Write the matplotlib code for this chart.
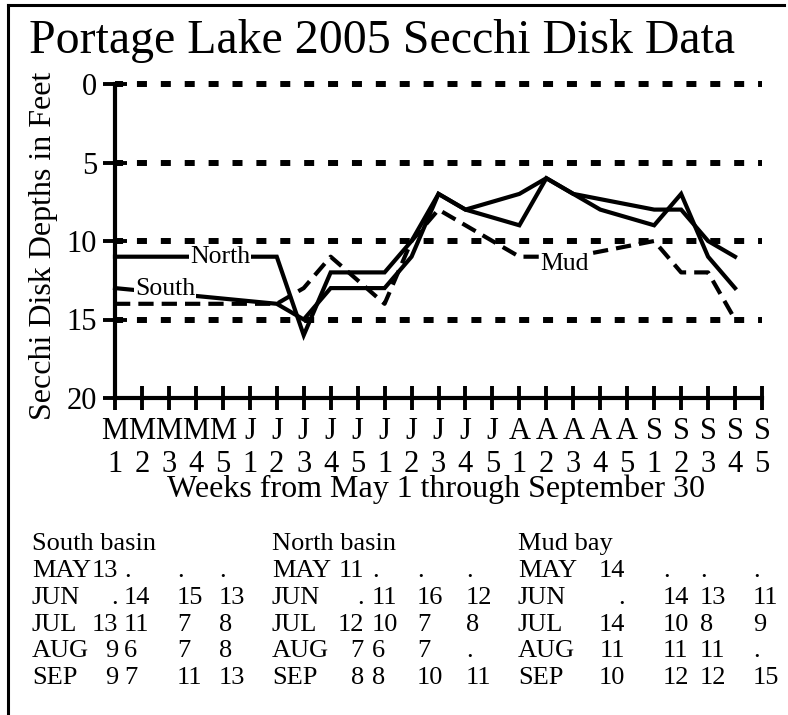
import numpy as np
import matplotlib
matplotlib.use('Agg')
import matplotlib.pyplot as plt
from matplotlib.lines import Line2D

plt.rcParams['font.family'] = 'Liberation Serif'
plt.rcParams['lines.scale_dashes'] = False  # dash lengths in points

nan = np.nan

# weekly Secchi readings (feet), May week 1 .. Sep week 5, nan = no reading
month_letters = ['M'] * 5 + ['J'] * 5 + ['J'] * 5 + ['A'] * 5 + ['S'] * 5
week_numbers = [1, 2, 3, 4, 5] * 5
south = [13, nan, nan, nan, nan, nan, 14, 15, 13, nan, 13, 11, 7, 8, nan,
         9, 6, 7, 8, nan, 9, 7, 11, 13, nan]
north = [11, nan, nan, nan, nan, nan, 11, 16, 12, nan, 12, 10, 7, 8, nan,
         7, 6, 7, nan, nan, 8, 8, 10, 11, nan]
mud = [14, nan, nan, nan, nan, nan, 14, 13, 11, nan, 14, 10, 8, 9, nan,
       11, 11, 11, nan, nan, 10, 12, 12, 15, nan]

months = ['MAY', 'JUN', 'JUL', 'AUG', 'SEP']
basins = ['South basin', 'North basin', 'Mud bay']
grid_depths = [0, 5, 10, 15]

W, H = 788, 715
fig = plt.figure(figsize=(W / 100, H / 100), dpi=100)


def fx(px):
    return px / W


def fy(py):
    return 1 - py / H


# frame
fig.add_artist(Line2D([fx(8), fx(8)], [0, fy(5)], color='black', lw=2.2))
fig.add_artist(Line2D([fx(8), fx(784)], [fy(5), fy(5)], color='black', lw=2.2))

fig.text(fx(29), fy(53), 'Portage Lake 2005 Secchi Disk Data',
         fontsize=34.5, va='baseline', ha='left')

ax = fig.add_axes([fx(115), fy(398), (762 - 115) / W, (398 - 84) / H])
weeks = np.arange(len(south))
ax.set_xlim(0, 24)
ax.set_ylim(20, 0)

for d in grid_depths:
    ax.axhline(d, color='black', lw=4.3, linestyle=(1.4, (7.2, 10.0)),
               dash_capstyle='butt', clip_on=False, zorder=1)


def plot_series(vals, **kw):
    v = np.array(vals, dtype=float)
    ok = ~np.isnan(v)
    ax.plot(weeks[ok], v[ok], color='black', lw=3.0, zorder=2,
            solid_joinstyle='miter', clip_on=False, **kw)


plot_series(north)
plot_series(south)
plot_series(mud, linestyle=(0, (11, 5.8)))

box = dict(facecolor='white', edgecolor='none', pad=1)
ax.text(3.9, 11.0, 'North', fontsize=18.5, ha='center', va='center', bbox=box, zorder=3)
ax.text(1.85, 13.05, 'South', fontsize=18.5, ha='center', va='center', bbox=box, zorder=3)
ax.text(16.67, 11.45, 'Mud', fontsize=18.5, ha='center', va='center', bbox=box, zorder=3)

for side in ['top', 'right']:
    ax.spines[side].set_visible(False)
for side in ['left', 'bottom']:
    ax.spines[side].set_linewidth(3)

ax.set_xticks(weeks)
ax.set_xticklabels([f'{m}\n{n}' for m, n in zip(month_letters, week_numbers)])
ax.set_yticks([0, 5, 10, 15, 20])
ax.tick_params(direction='inout', length=17, width=2.8, labelsize=22)
ax.tick_params(axis='x', pad=5)
ax.tick_params(axis='y', pad=4.3)

ax.set_xlabel('Weeks from May 1 through September 30', fontsize=23, va='top')
ax.xaxis.set_label_coords((436 - 115) / 647, -(475 - 398) / 314)
ax.set_ylabel('Secchi Disk Depths in Feet', fontsize=23, va='center')
ax.yaxis.set_label_coords((44 - 115) / 647, 1 - (246 - 84) / 314)

# table of readings under the chart (weeks 1-4 of each month)
block_x = [32, 272, 518]
col1_right = [118, 364, 625]
col_left = [[124, 177, 219], [372, 417, 466], [663, 700, 753]]
row_y = [550, 577, 604, 631, 657, 684]
tsize = 19

for b, (name, series) in enumerate(zip(basins, [south, north, mud])):
    fig.text(fx(block_x[b]), fy(row_y[0]), name, fontsize=tsize, va='baseline')
    for m, month in enumerate(months):
        y = fy(row_y[m + 1])
        vals = series[5 * m:5 * m + 4]
        cells = ['.' if np.isnan(v) else str(int(v)) for v in vals]
        fig.text(fx(block_x[b]), y, month, fontsize=tsize, va='baseline')
        fig.text(fx(col1_right[b]), y, cells[0], fontsize=tsize, va='baseline', ha='right')
        for c in range(3):
            fig.text(fx(col_left[b][c]), y, cells[c + 1], fontsize=tsize, va='baseline')

fig.savefig('out.png', dpi=100)
